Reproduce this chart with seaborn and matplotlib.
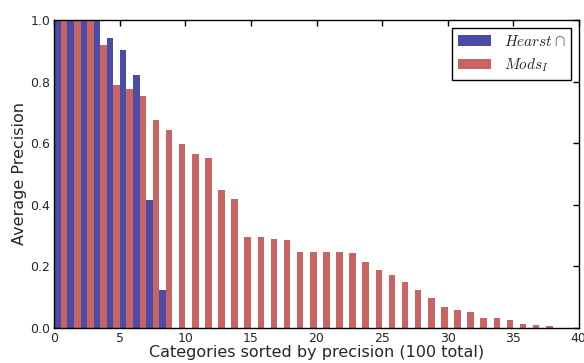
import numpy as np
import pandas as pd
import matplotlib
matplotlib.use('Agg')
import matplotlib.pyplot as plt
import seaborn as sns

# --- data ---
hearst_vals = [1.0, 1.0, 1.0, 1.0, 0.942, 0.904, 0.822, 0.416, 0.124]
mods_vals = [1.0, 1.0, 1.0, 0.920, 0.789, 0.776, 0.754, 0.676, 0.641, 0.598,
             0.563, 0.550, 0.449, 0.420, 0.296, 0.296, 0.289, 0.286, 0.247, 0.247,
             0.247, 0.247, 0.244, 0.215, 0.189, 0.172, 0.150, 0.124, 0.098, 0.068,
             0.059, 0.052, 0.033, 0.033, 0.026, 0.011, 0.0075, 0.0043]
series_names = [r'$Hearst\cap$', r'$Mods_I$']
series_colors = ['#4b4ba8', '#c96464']

# build long table, categories centred at i + 0.5 so bars sit on [i, i+1]
rows = []
for name, vals in zip(series_names, [hearst_vals, mods_vals]):
    for i, v in enumerate(vals):
        rows.append({'cat': i + 0.5, 'ap': v, 'method': name})
df = pd.DataFrame(rows)

sns.set_style('white')
plt.rcParams['font.family'] = ['DejaVu Sans']
plt.rcParams['mathtext.fontset'] = 'cm'

fig, ax = plt.subplots(figsize=(5.84, 3.63), dpi=100)
sns.barplot(data=df, x='cat', y='ap', hue='method', hue_order=series_names,
            palette=series_colors, native_scale=True, width=1.0,
            errorbar=None, saturation=1, edgecolor='none', linewidth=0, ax=ax)

ax.set_xlim(0, 40)
ax.set_ylim(0, 1.0)
ax.set_xticks(np.arange(0, 41, 5))
ax.set_xticklabels([str(t) for t in range(0, 41, 5)])
ax.set_yticks(np.arange(0, 1.01, 0.2))
ax.set_yticklabels(['%.1f' % t for t in np.arange(0, 1.01, 0.2)])
ax.set_xlabel('Categories sorted by precision (100 total)', fontsize=11.5, labelpad=0)
ax.set_ylabel('Average Precision', fontsize=11.5, labelpad=2)
ax.tick_params(direction='in', top=True, right=True, length=4, width=1,
               labelsize=9, pad=3, color='black')
for s in ax.spines.values():
    s.set_color('black')
    s.set_linewidth(1)

leg = ax.legend(loc='upper right', fontsize=11, fancybox=False, edgecolor='black',
                framealpha=1, handlelength=2.2)
leg.get_frame().set_linewidth(1)

fig.subplots_adjust(left=0.093, right=0.991, top=0.945, bottom=0.097)
fig.savefig('out.png', dpi=100)
